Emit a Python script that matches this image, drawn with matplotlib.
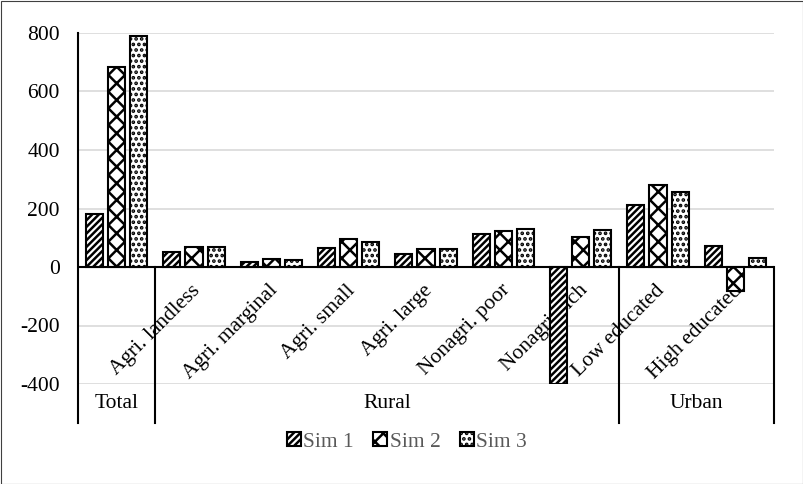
import matplotlib
matplotlib.use("Agg")
import matplotlib.pyplot as plt
from matplotlib.patches import Rectangle
import numpy as np

plt.rcParams['font.family'] = ['Liberation Serif', 'DejaVu Serif']
plt.rcParams['axes.unicode_minus'] = False
plt.rcParams['hatch.linewidth'] = 1.8

categories = ["", "Agri. landless", "Agri. marginal", "Agri. small", "Agri. large",
              "Nonagri. poor", "Nonagri. rich", "Low educated", "High educated"]
groups = ["Total", "Rural", "Urban"]
group_sizes = [1, 6, 2]

sim1 = [182, 52, 16, 65, 44, 114, -400, 212, 73]
sim2 = [683, 68, 29, 96, 62, 123, 103, 280, -82]
sim3 = [790, 68, 25, 87, 62, 130, 127, 258, 31]
series = ["Sim 1", "Sim 2", "Sim 3"]
hatches = ["/////", "xx", "..."]

FS = 15.5
W, H = 804, 484
fig = plt.figure(figsize=(W / 100, H / 100), dpi=100)
fig.patches.append(Rectangle((0.5 / W, 0.5 / H), 1 - 1.5 / W, 1 - 1.5 / H,
                             transform=fig.transFigure, fill=False,
                             edgecolor="#404040", linewidth=0.8))

ax = fig.add_axes([78 / W, (H - 384) / H, 696 / W, 351 / H])
ymin, ymax = -400, 800
ax.set_ylim(ymin, ymax)
ax.set_xlim(-0.5, len(categories) - 0.5)
for s in ax.spines.values():
    s.set_visible(False)

ax.set_yticks(np.arange(-400, 801, 200))
ax.tick_params(axis='y', length=0, labelsize=FS, pad=13)
ax.set_xticks([])
ax.yaxis.grid(True, color="#d9d9d9", linewidth=1.2)
ax.set_axisbelow(True)

x = np.arange(len(categories))
bw, step = 0.22, 0.285
for k, (vals, lab, h) in enumerate(zip([sim1, sim2, sim3], series, hatches)):
    ax.bar(x + (k - 1) * step, vals, bw, color="white", edgecolor="black",
           hatch=h, linewidth=1.5, label=lab, zorder=3)

ax.axhline(0, color="black", linewidth=1.5, zorder=4)

# category labels hanging below the zero line
for i, c in enumerate(categories):
    if c:
        ax.annotate(c, xy=(i, 0), xytext=(-2, -10), textcoords='offset points',
                    rotation=45, rotation_mode='anchor', ha='right', va='top',
                    fontsize=FS, zorder=2)

# group row under the plot area
row_bottom = ymin - (ymax - ymin) * 39 / 351
ax.plot([-0.5, -0.5], [ymax, row_bottom], color="black", linewidth=1.5, clip_on=False)
edges = np.cumsum([0] + group_sizes) - 0.5
for e in edges[1:]:
    ax.plot([e, e], [0, row_bottom], color="black", linewidth=1.5, clip_on=False)
for g, a, b in zip(groups, edges[:-1], edges[1:]):
    ax.text((a + b) / 2, (ymin + row_bottom) / 2, g, ha='center', va='center',
            fontsize=FS)

leg = fig.legend(loc='center', bbox_to_anchor=(407 / W, 1 - 442 / H), ncol=3,
                 frameon=False, fontsize=FS, handlelength=0.65, handleheight=0.65,
                 handletextpad=0.1, columnspacing=0.9, labelcolor="#595959")

fig.savefig("out.png", dpi=100)
